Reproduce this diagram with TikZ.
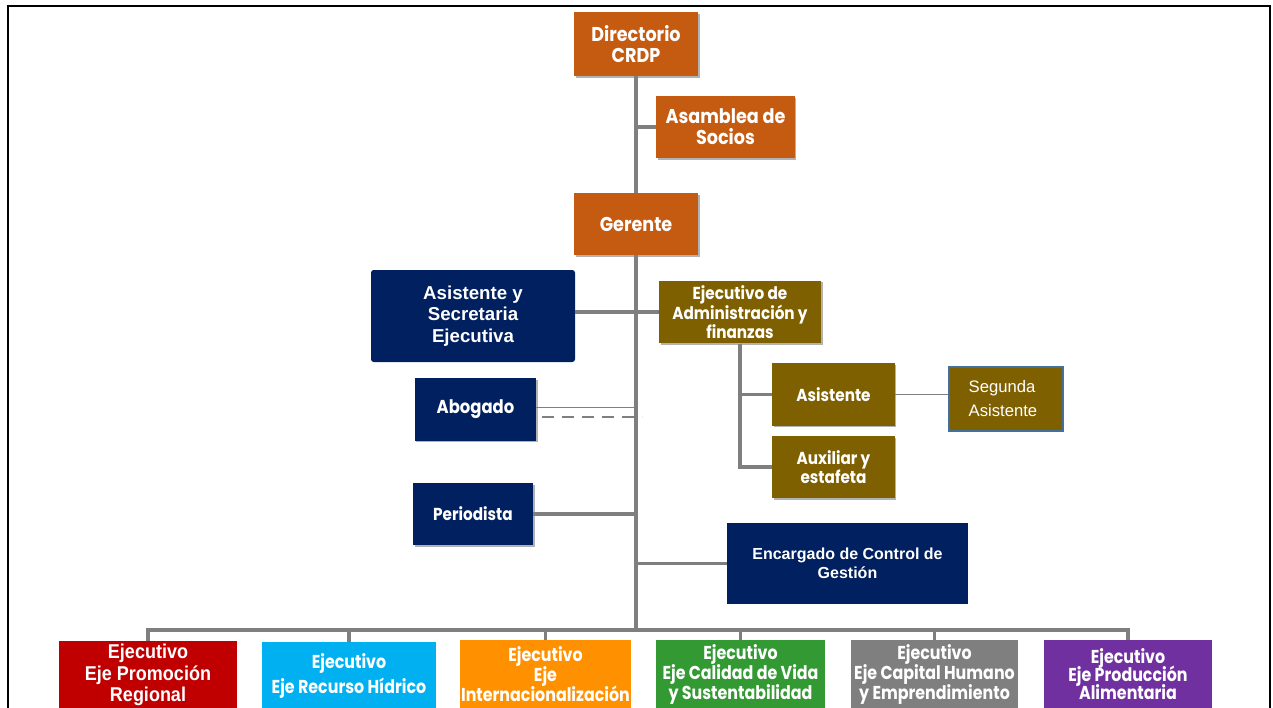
\documentclass[tikz,border=0pt]{standalone}
\usepackage{fontspec}
\setmainfont{Liberation Sans}
\newfontfamily\gothic{Poppins}[FakeStretch=0.88]
\newfontfamily\gothicnarrow{Poppins}[FakeStretch=0.85]
\newfontfamily\arialnarrow{Liberation Sans}[FakeStretch=0.9]
\newcommand\tightlines{\lineskiplimit=-6pt\relax}
\usetikzlibrary{shadows}
\definecolor{crdporange}{HTML}{C55A11}
\definecolor{crdpolive}{HTML}{7F6000}
\definecolor{crdpnavy}{HTML}{002060}
\definecolor{crdpframe}{HTML}{41719C}
\definecolor{crdpline}{HTML}{7F7F7F}
\definecolor{ejered}{HTML}{C00000}
\definecolor{ejecyan}{HTML}{00B0F0}
\definecolor{ejeorange}{HTML}{FF9100}
\definecolor{ejegreen}{HTML}{339933}
\definecolor{ejegray}{HTML}{7F7F7F}
\definecolor{ejepurple}{HTML}{7030A0}
\tikzset{
  box/.style={inner sep=1pt, align=center, text=white,
    drop shadow={shadow xshift=1.2pt, shadow yshift=-1.2pt, opacity=.3, fill=black}},
  gbox/.style={box, font=\gothic\bfseries\fontsize{15}{15.75}\selectfont},
  link/.style={crdpline, line width=2.3pt},
  ejebox/.style={inner sep=1pt, align=center, text=white, minimum height=51pt,
    font=\gothicnarrow\bfseries\fontsize{14}{15}\selectfont\tightlines}
}
\begin{document}
\begin{tikzpicture}[x=0.75pt, y=-0.75pt]
\useasboundingbox (0,0) rectangle (1273,707);
\clip (0,0) rectangle (1273,707);
% marco
\draw[line width=1.6pt] (8,710) -- (8,6) -- (1270,6) -- (1270,710);
% direccion
\node[gbox, fill=crdporange, minimum width=93pt, minimum height=48pt] (dir) at (636,44) {Directorio\\CRDP};
\node[gbox, fill=crdporange, minimum width=104pt, minimum height=46.5pt] (asam) at (725.5,127) {Asamblea de\\Socios};
\node[gbox, fill=crdporange, minimum width=93pt, minimum height=46.5pt] (ger) at (636,224) {Gerente};
% staff
\node[inner sep=1pt, align=center, text=white, fill=crdpnavy, rounded corners=2pt, minimum width=153pt, minimum height=69pt,
  font=\bfseries\fontsize{14}{16}\selectfont] (sec) at (473,316) {Asistente y\\Secretaria\\Ejecutiva};
\node[gbox, fill=crdpolive, minimum width=121.5pt, minimum height=47pt, font=\gothic\bfseries\fontsize{13}{14}\selectfont] (adm) at (740,312) {Ejecutivo de\\Administración y\\finanzas};
\node[gbox, fill=crdpnavy, minimum width=91pt, minimum height=47pt, font=\gothic\bfseries\fontsize{14}{15}\selectfont] (abo) at (475.5,409.5) {Abogado};
\node[gbox, fill=crdpnavy, minimum width=90pt, minimum height=46.5pt, font=\gothic\bfseries\fontsize{13}{15}\selectfont] (per) at (473,514) {Periodista};
\node[gbox, fill=crdpolive, minimum width=92pt, minimum height=47pt, font=\gothic\bfseries\fontsize{13}{14.5}\selectfont] (asi) at (833.5,394.5) {Asistente};
\node[gbox, fill=crdpolive, minimum width=92pt, minimum height=46.5pt, font=\gothic\bfseries\fontsize{13}{14.5}\selectfont] (aux) at (833.5,467) {Auxiliar y\\estafeta};
\node[draw=crdpframe, line width=1.8pt, fill=crdpolive, text=white, minimum width=85.5pt, minimum height=48pt,
  text width=56pt, align=left, font=\fontsize{12.5}{18}\selectfont] (seg) at (1006,399) {Segunda\\Asistente};
\node[inner sep=1pt, align=center, text=white, fill=crdpnavy, minimum width=181pt, minimum height=61pt,
  font=\bfseries\fontsize{12}{14.5}\selectfont] (enc) at (847.5,563.5) {Encargado de Control de\\Gestión};
% ejes
\node[ejebox, fill=ejered, minimum width=133.5pt, font=\arialnarrow\bfseries\fontsize{15}{16}\selectfont] (e1) at (148,675) {Ejecutivo\\Eje Promoción\\Regional};
\node[ejebox, fill=ejecyan, minimum width=130.5pt, font=\gothicnarrow\bfseries\fontsize{14}{19}\selectfont] (e2) at (349,676) {Ejecutivo\\Eje Recurso Hídrico};
\node[ejebox, fill=ejeorange, minimum width=125pt] (e3) at (545.5,674) {Ejecutivo\\Eje\\Internacionalización};
\node[ejebox, fill=ejegreen, minimum width=127pt] (e4) at (740.5,674) {Ejecutivo\\Eje Calidad de Vida\\y Sustentabilidad};
\node[ejebox, fill=ejegray, minimum width=125pt] (e5) at (934.5,674) {Ejecutivo\\Eje Capital Humano\\y Emprendimiento};
\node[ejebox, fill=ejepurple, minimum width=126pt, font=\gothicnarrow\bfseries\fontsize{14}{13.5}\selectfont\tightlines] (e6) at (1128,674) {Ejecutivo\\Eje Producción\\Alimentaria};
\coordinate (bus) at (636,630);
% conexiones
\begin{scope}[link]
  \draw (dir) -- (ger);
  \draw (asam.west) -- (asam.west -| dir.south);
  \draw (ger.south) -- (bus);
  \draw (adm.west) -- (adm.west -| sec.east);
  \draw (per.east) -- (per.east -| ger.south);
  \draw (enc.west) -- (enc.west -| ger.south);
  \draw (adm.south) |- (asi.west);
  \draw (adm.south) |- (aux.west);
  \draw (e1.north) |- (bus) -| (e6.north);
  \foreach \e in {e2,e3,e4,e5}
    \draw (\e.north) -- (\e.north |- bus);
\end{scope}
\draw[crdpline, line width=1.2pt] ([yshift=1.5pt]abo.east) -- ([yshift=1.5pt]abo.east -| ger.south);
\draw[crdpline, line width=1.6pt, dash pattern=on 9pt off 6pt] ([xshift=4pt,yshift=-5.5pt]abo.east) -- ++(100,0);
\draw[crdpline, line width=1.4pt] (asi.east) -- (asi.east -| seg.west);
\end{tikzpicture}
\end{document}
